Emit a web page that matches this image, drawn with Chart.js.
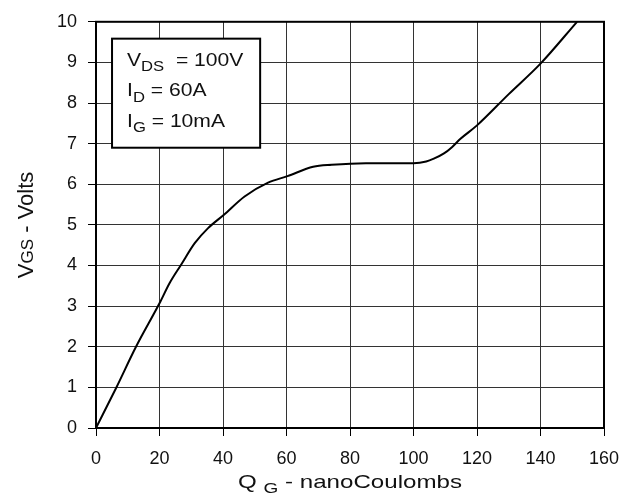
<!DOCTYPE html>
<html>
<head>
<meta charset="utf-8">
<script src="https://cdn.jsdelivr.net/npm/chart.js@4"></script>
<style>
	html, body { margin: 0; padding: 0; background: #fff; }
	#wrap { width: 633px; height: 493px; }
</style>
</head>
<body>
<div id="wrap"><canvas id="chart-gate"></canvas></div>
<script>
// gate charge curve
const QG = [0, 6.3, 12.6, 20, 23.2, 26.8, 31.1, 35.3, 40.3, 46.8, 54.2, 60.3, 68.4, 74.2, 85, 100, 104, 106.4, 109.6, 112.2, 114.8, 120, 130, 140, 151.5];
const VGS = [0, 0.98, 2.0, 3.07, 3.57, 4.02, 4.55, 4.92, 5.25, 5.7, 6.04, 6.2, 6.43, 6.48, 6.52, 6.52, 6.56, 6.63, 6.76, 6.92, 7.12, 7.45, 8.22, 8.97, 10];
const X_TICKS = [0, 20, 40, 60, 80, 100, 120, 140, 160];
const Y_TICKS = [0, 1, 2, 3, 4, 5, 6, 7, 8, 9, 10];
const NOTE = [
	["V", "DS", "  = 100V"],
	["I", "D", " = 60A"],
	["I", "G", " = 10mA"],
];

const FONT = "'Liberation Sans', Arial, sans-serif";
const WRAPPER = document.getElementById("chart-gate");

// text with a lowered small part, alphabetic baseline
const subText = (ctx, x, y, parts, size, subSize, drop) => {
	ctx.font = size + "px " + FONT;
	ctx.fillText(parts[0], x, y);
	x += ctx.measureText(parts[0]).width;
	ctx.font = subSize + "px " + FONT;
	ctx.fillText(parts[1], x, y + drop);
	x += ctx.measureText(parts[1]).width;
	ctx.font = size + "px " + FONT;
	ctx.fillText(parts[2], x, y);
	return x + ctx.measureText(parts[2]).width;
};

const measure = (ctx, parts, size, subSize) => {
	ctx.font = size + "px " + FONT;
	let w = ctx.measureText(parts[0] + parts[2]).width;
	ctx.font = subSize + "px " + FONT;
	return w + ctx.measureText(parts[1]).width;
};

const extras = {
	id: "extras",
	afterDraw(chart) {
		const { ctx, chartArea: a } = chart;
		const x = chart.scales.x;
		const y = chart.scales.y;
		ctx.save();
		// frame
		ctx.strokeStyle = "#000";
		ctx.lineWidth = 2;
		ctx.strokeRect(a.left, a.top, a.right - a.left, a.bottom - a.top);

		// note box
		const bx = x.getPixelForValue(5.05), by = y.getPixelForValue(9.585);
		const bw = x.getPixelForValue(51.7) - bx, bh = y.getPixelForValue(6.9) - by;
		ctx.fillStyle = "#fff";
		ctx.fillRect(bx, by, bw, bh);
		ctx.strokeRect(bx, by, bw, bh);
		ctx.fillStyle = "#111";
		ctx.textBaseline = "alphabetic";
		ctx.textAlign = "left";
		// source lettering is a little wide
		NOTE.forEach((n, i) => {
			ctx.save();
			ctx.translate(bx + 15, by + 27 + i * 30.5);
			ctx.scale(1.11, 1);
			subText(ctx, 0, 0, n, 19, 15, 5.5);
			ctx.restore();
		});

		// x title
		const xt = ["Q ", "G", " - nanoCoulombs"];
		const sx = 1.27;
		const w = measure(ctx, xt, 19, 15) * sx;
		ctx.save();
		ctx.translate((a.left + a.right) / 2 - w / 2, 488);
		ctx.scale(sx, 1);
		subText(ctx, 0, 0, xt, 19, 15, 5);
		ctx.restore();

		// y title, GS smaller but on the same baseline
		const yt = ["V", "GS", " - Volts"];
		const h = measure(ctx, yt, 22, 17);
		ctx.translate(33, (a.top + a.bottom) / 2);
		ctx.rotate(-Math.PI / 2);
		subText(ctx, -h / 2, 0, yt, 22, 17, 0);
		ctx.restore();
	},
};

const DATA = {
	datasets: [
		{
			data: QG.map((q, i) => ({ x: q, y: VGS[i] })),
			showLine: true,
			borderColor: "#000",
			borderWidth: 2,
			pointRadius: 0,
			cubicInterpolationMode: "monotone",
		},
	],
};

const CONFIG = {
	type: "scatter",
	data: DATA,
	options: {
		responsive: false,
		animation: false,
		layout: { padding: { left: 0, right: 29, top: 19, bottom: 0 } },
		plugins: {
			legend: { display: false },
			tooltip: { enabled: false },
		},
		scales: {
			x: {
				min: 0,
				max: 160,
				afterBuildTicks: (s) => { s.ticks = X_TICKS.map((v) => ({ value: v })); },
				afterFit: (s) => { s.height = 65; },
				grid: { color: "#333", lineWidth: 1, tickLength: 8, tickColor: "#000" },
				border: { color: "#000", width: 2 },
				ticks: { color: "#111", font: { family: FONT, size: 18 }, padding: 12, maxRotation: 0 },
			},
			y: {
				min: 0,
				max: 10,
				afterBuildTicks: (s) => { s.ticks = Y_TICKS.map((v) => ({ value: v })); },
				afterFit: (s) => { s.width = 96; },
				grid: { color: "#333", lineWidth: 1, tickLength: 8, tickColor: "#000" },
				border: { color: "#000", width: 2 },
				ticks: { color: "#111", font: { family: FONT, size: 18 }, padding: 11 },
			},
		},
	},
	plugins: [extras],
};

WRAPPER.width = 633;
WRAPPER.height = 493;
const chart = new Chart(WRAPPER, CONFIG);
</script>
</body>
</html>
